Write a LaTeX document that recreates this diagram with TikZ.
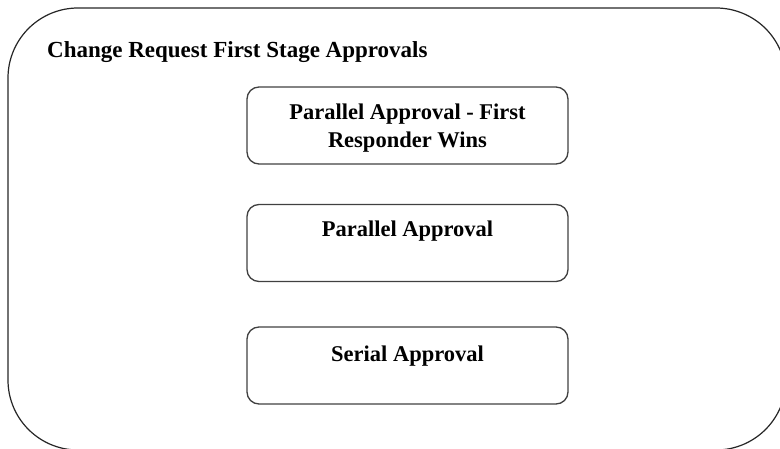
\documentclass[tikz,border=0pt]{standalone}
\usepackage{fontspec}
\setmainfont{Liberation Serif}
\usetikzlibrary{positioning}

\begin{document}
\begin{tikzpicture}[x=1pt, y=-1pt,
    stagebox/.style={draw=black!75, line width=1.3pt, rounded corners=12pt,
      minimum width=321pt, minimum height=77pt, inner sep=0pt},
    stagetext/.style={font=\fontsize{22.5}{28.5}\selectfont\bfseries, align=center, inner sep=0pt}]
    \useasboundingbox (0,0) rectangle (780,449);
    \clip (0,0) rectangle (780,449);
    % outer group, cut off at the right and bottom
    \draw[black!85, line width=1.2pt, rounded corners=70pt] (8,8) rectangle (786,450);
    \node[stagetext, font=\fontsize{23}{28}\selectfont\bfseries, anchor=base west] (title) at (47,58) {Change Request First Stage Approvals};
    % approval types
    \node[stagebox] (first) at (407.5,125.5) {};
    \node[stagebox] (parallel) at (407.5,243) {};
    \node[stagebox] (serial) at (407.5,365.5) {};
    \node[stagetext, anchor=north, below=17pt of first.north] (firsttext) {Parallel Approval - First\\Responder Wins};
    \node[stagetext, anchor=north, below=17pt of parallel.north] (paralleltext) {Parallel Approval};
    \node[stagetext, anchor=north, below=19pt of serial.north] (serialtext) {Serial Approval};
\end{tikzpicture}
\end{document}
